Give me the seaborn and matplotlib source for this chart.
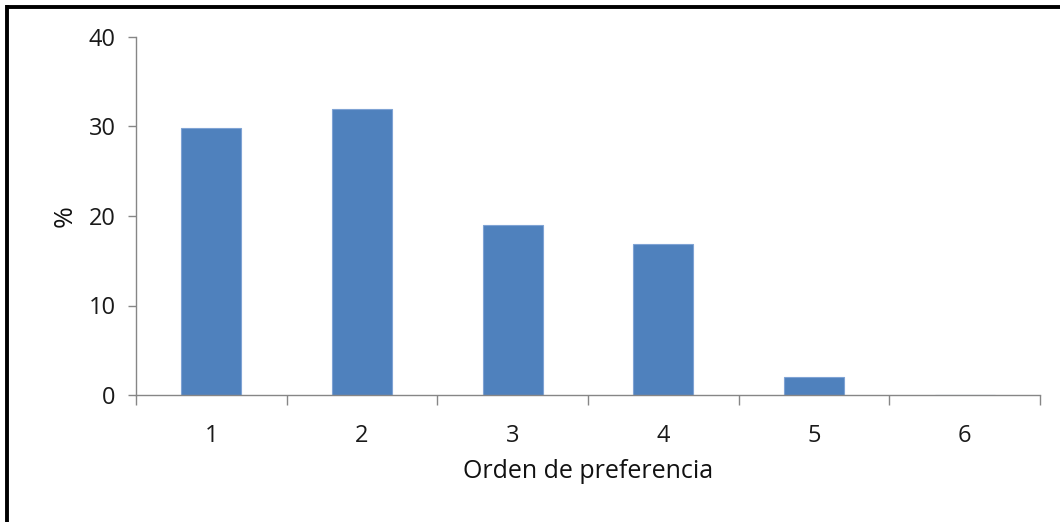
import matplotlib
matplotlib.use("Agg")
import matplotlib.pyplot as plt
import seaborn as sns
import pandas as pd
from matplotlib.lines import Line2D

categories = ["1", "2", "3", "4", "5", "6"]
values = [29.8, 31.9, 19.0, 16.9, 2.0, 0.0]
y_ticks = [0, 10, 20, 30, 40]
x_label = "Orden de preferencia"
y_label = "%"

sns.set_theme(style="white")
plt.rcParams['font.family'] = ['Open Sans', 'DejaVu Sans']

df = pd.DataFrame({"cat": categories, "val": values})

fig = plt.figure(figsize=(10.6, 5.22), dpi=100)
ax = fig.add_axes([136/1060, 1-395/522, (1040-136)/1060, (395-37)/522])
sns.barplot(data=df, x="cat", y="val", color="#4F81BD", width=0.4,
            edgecolor="#7FA3D4", linewidth=0.8, saturation=1, ax=ax)

ax.set_xlim(-0.5, len(categories) - 0.5)
ax.set_ylim(0, 40)
ax.set_yticks(y_ticks)
ax.set_yticklabels([str(t) for t in y_ticks])
for s in ["top", "right"]:
    ax.spines[s].set_visible(False)
gray = "#868686"
ax.spines["left"].set_color(gray)
ax.spines["bottom"].set_color(gray)
ax.spines["left"].set_linewidth(1)
ax.spines["bottom"].set_linewidth(1)

ax.tick_params(axis="y", which="major", left=True, length=6, width=1, color=gray,
               labelsize=17, labelcolor="#1a1a1a", pad=8.5)
ax.tick_params(axis="x", which="major", bottom=False, labelsize=17, labelcolor="#1a1a1a", pad=15)
ax.set_xticks([i - 0.5 for i in range(len(categories) + 1)], minor=True)
ax.tick_params(axis="x", which="minor", bottom=True, length=7, width=1, color=gray)

ax.set_xlabel(x_label, fontsize=18, color="#111111", labelpad=8)
ax.set_ylabel(y_label, fontsize=19, color="#111111", labelpad=8)

# figure border (top and left visible)
fig.add_artist(Line2D([7/1060, 1.0], [1-6.5/522, 1-6.5/522], transform=fig.transFigure,
                      color="black", lw=2.8, solid_capstyle="butt"))
fig.add_artist(Line2D([6.5/1060, 6.5/1060], [0, 1-5/522], transform=fig.transFigure,
                      color="black", lw=2.8, solid_capstyle="butt"))

fig.savefig("out.png", dpi=100)
